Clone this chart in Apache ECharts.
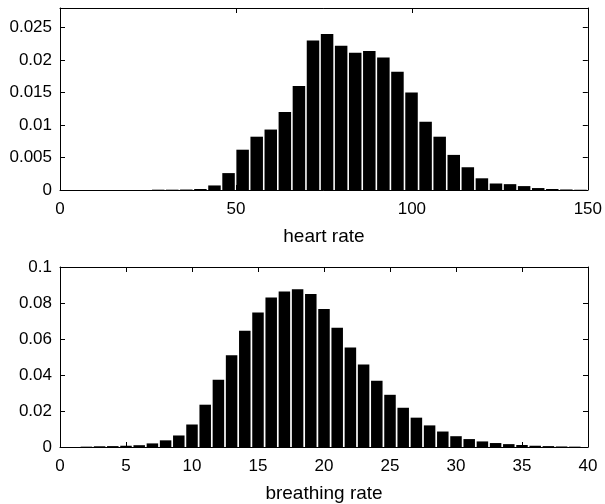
<!DOCTYPE html>
<html>
<head>
<meta charset="utf-8">
<script src="https://cdn.jsdelivr.net/npm/echarts@6/dist/echarts.min.js"></script>
<style>
    html, body { margin: 0; padding: 0; background: #fff; }
    #chart { width: 605px; height: 504px; }
</style>
</head>
<body>
<div id="chart"></div>
<script>
    // heart rate histogram (bin centres, bin width 4)
    var heartCenters = [27.9, 31.9, 35.9, 39.9, 43.9, 47.9, 51.9, 55.9, 59.9, 63.9, 67.9, 71.9, 75.9, 79.9, 83.9,
        87.9, 91.9, 95.9, 99.9, 103.9, 107.9, 111.9, 115.9, 119.9, 123.9, 127.9, 131.9, 135.9, 139.9, 143.9, 147.9];
    var heartValues = [0.00005, 0.00005, 0.00007, 0.00015, 0.0007, 0.0026, 0.0062, 0.0082, 0.0093, 0.012, 0.016,
        0.023, 0.024, 0.0222, 0.0211, 0.0214, 0.0204, 0.0182, 0.015, 0.0105, 0.0082, 0.0054, 0.0035, 0.0018,
        0.001, 0.0009, 0.0006, 0.0003, 0.00015, 0.00008, 0.00004];

    // breathing rate histogram (bin centres, bin width 1)
    var breathCenters = [2, 3, 4, 5, 6, 7, 8, 9, 10, 11, 12, 13, 14, 15, 16, 17, 18, 19, 20,
        21, 22, 23, 24, 25, 26, 27, 28, 29, 30, 31, 32, 33, 34, 35, 36, 37, 38, 39];
    var breathValues = [0.0002, 0.0004, 0.0005, 0.0007, 0.001, 0.002, 0.0037, 0.0064, 0.0125, 0.0235, 0.0374,
        0.051, 0.0646, 0.0747, 0.0831, 0.0864, 0.0877, 0.085, 0.0767, 0.0663, 0.0553, 0.0458, 0.0368, 0.029,
        0.0218, 0.0163, 0.012, 0.0086, 0.006, 0.0044, 0.0031, 0.0022, 0.0016, 0.0011, 0.0007, 0.0005, 0.0003, 0.0002];

    var heartTicks = { min: 0, max: 150, interval: 50 };
    var breathTicks = { min: 0, max: 40, interval: 5 };

    var font = 'Liberation Sans, Arial, Helvetica, sans-serif';

    function pairs(xs, ys) {
        var out = [];
        for (var i = 0; i < xs.length; i++) out.push([xs[i], ys[i]]);
        return out;
    }

    function xAx(grid, t, name, pos) {
        var bottom = pos === 'bottom';
        return {
            type: 'value', gridIndex: grid, position: pos,
            min: t.min, max: t.max, interval: t.interval,
            name: bottom ? name : '', nameLocation: 'middle', nameGap: 37,
            nameTextStyle: { fontFamily: font, fontSize: 19, color: '#000' },
            axisLine: { show: true, onZero: false, lineStyle: { color: '#000', width: 1 } },
            axisTick: { show: true, inside: true, length: 5, lineStyle: { color: '#000' } },
            axisLabel: { show: bottom, margin: 11, fontFamily: font, fontSize: 17, color: '#000' },
            splitLine: { show: false }
        };
    }

    function yAx(grid, max, interval, pos) {
        var left = pos === 'left';
        return {
            type: 'value', gridIndex: grid, position: pos,
            min: 0, max: max, interval: interval,
            axisLine: { show: true, onZero: false, lineStyle: { color: '#000', width: 1 } },
            axisTick: { show: true, inside: true, length: 5, lineStyle: { color: '#000' } },
            axisLabel: { show: left, margin: 8, showMaxLabel: max === 0.1, fontFamily: font, fontSize: 17, color: '#000' },
            splitLine: { show: false }
        };
    }

    var myChart = echarts.init(document.getElementById('chart'), null, { renderer: 'canvas' });
    var option = {
        animation: false,
        backgroundColor: '#fff',
        grid: [
            { left: 60, top: 8, width: 528, height: 182 },
            { left: 60, top: 267, width: 528, height: 182 }
        ],
        xAxis: [
            xAx(0, heartTicks, 'heart rate', 'bottom'),
            xAx(0, heartTicks, '', 'top'),
            xAx(1, breathTicks, 'breathing rate', 'bottom'),
            xAx(1, breathTicks, '', 'top')
        ],
        yAxis: [
            yAx(0, 0.028, 0.005, 'left'),
            yAx(0, 0.028, 0.005, 'right'),
            yAx(1, 0.1, 0.02, 'left'),
            yAx(1, 0.1, 0.02, 'right')
        ],
        series: [{
            type: 'bar',
            xAxisIndex: 0, yAxisIndex: 0,
            barWidth: 12.5,
            itemStyle: { color: '#000' },
            data: pairs(heartCenters, heartValues)
        }, {
            type: 'bar',
            xAxisIndex: 2, yAxisIndex: 2,
            barWidth: 11.5,
            itemStyle: { color: '#000' },
            data: pairs(breathCenters, breathValues)
        }]
    };
    myChart.setOption(option);
</script>
</body>
</html>
